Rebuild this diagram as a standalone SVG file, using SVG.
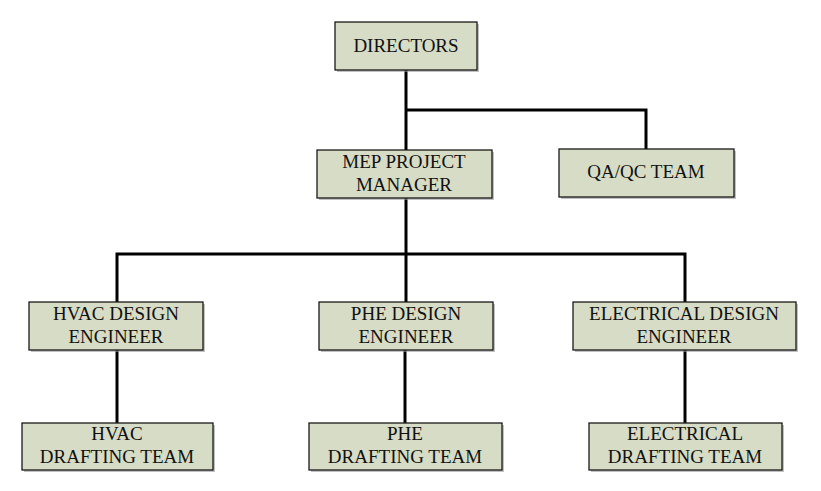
<svg xmlns="http://www.w3.org/2000/svg" width="821" height="491" viewBox="0 0 821 491">
<style>
.box{fill:#d6dcc5;stroke:#1a1a1a;stroke-width:1.3}
.sh{fill:#9a9a9a;opacity:0.6}
.t{font-family:"Liberation Serif","DejaVu Serif",serif;font-size:19px;fill:#111;text-anchor:middle}
.ln{stroke:#000;stroke-width:3;fill:none}
</style>
<rect width="821" height="491" fill="#fff"/>
<g id="connectors">
<path class="ln" d="M406 70V150"/>
<path class="ln" d="M406 110H646V149"/>
<path class="ln" d="M406 198V302"/>
<path class="ln" d="M117 302V254H685V302"/>
<path class="ln" d="M117 350V423"/>
<path class="ln" d="M405 350V423"/>
<path class="ln" d="M685 350V423"/>
</g>
<g id="directors">
<rect class="sh" x="337" y="24" width="142" height="48"/>
<rect class="box" x="335" y="22" width="142" height="48"/>
<text class="t" x="406" y="52">DIRECTORS</text>
</g>
<g id="mep">
<rect class="sh" x="319" y="152" width="175" height="48"/>
<rect class="box" x="317" y="150" width="175" height="48"/>
<text class="t" x="404" y="168">MEP PROJECT</text>
<text class="t" x="404" y="191">MANAGER</text>
</g>
<g id="qaqc">
<rect class="sh" x="561" y="151" width="175" height="48"/>
<rect class="box" x="559" y="149" width="175" height="48"/>
<text class="t" x="646" y="178">QA/QC TEAM</text>
</g>
<g id="hvac-design">
<rect class="sh" x="31" y="304" width="174" height="48"/>
<rect class="box" x="29" y="302" width="174" height="48"/>
<text class="t" x="116" y="320">HVAC DESIGN</text>
<text class="t" x="116" y="343">ENGINEER</text>
</g>
<g id="phe-design">
<rect class="sh" x="321" y="304" width="174" height="48"/>
<rect class="box" x="319" y="302" width="174" height="48"/>
<text class="t" x="406" y="320">PHE DESIGN</text>
<text class="t" x="406" y="343">ENGINEER</text>
</g>
<g id="elec-design">
<rect class="sh" x="575" y="304" width="223" height="48"/>
<rect class="box" x="573" y="302" width="223" height="48"/>
<text class="t" x="684" y="320">ELECTRICAL DESIGN</text>
<text class="t" x="684" y="343">ENGINEER</text>
</g>
<g id="hvac-draft">
<rect class="sh" x="24" y="425" width="191" height="47"/>
<rect class="box" x="22" y="423" width="191" height="47"/>
<text class="t" x="117" y="440">HVAC</text>
<text class="t" x="117" y="463">DRAFTING TEAM</text>
</g>
<g id="phe-draft">
<rect class="sh" x="311" y="425" width="193" height="47"/>
<rect class="box" x="309" y="423" width="193" height="47"/>
<text class="t" x="405" y="440">PHE</text>
<text class="t" x="405" y="463">DRAFTING TEAM</text>
</g>
<g id="elec-draft">
<rect class="sh" x="591" y="425" width="193" height="47"/>
<rect class="box" x="589" y="423" width="193" height="47"/>
<text class="t" x="685" y="440">ELECTRICAL</text>
<text class="t" x="685" y="463">DRAFTING TEAM</text>
</g>
</svg>
